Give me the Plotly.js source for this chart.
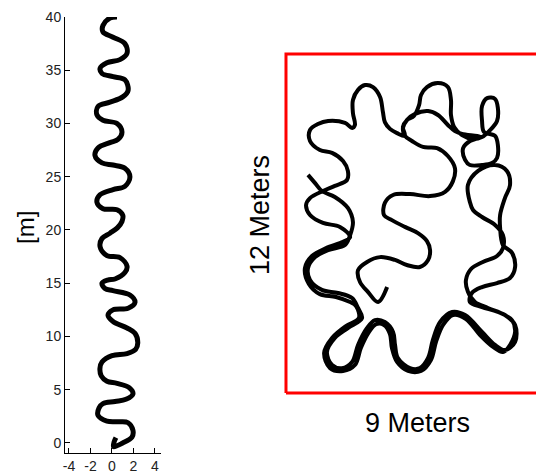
<!DOCTYPE html>
<html>
<head>
<meta charset="utf-8">
<script src="https://cdn.plot.ly/plotly-3.0.1.min.js"></script>
<style>html,body{margin:0;padding:0;background:#fff;}#chart{width:536px;height:474px;}</style>
</head>
<body>
<div id="chart"></div>
<script>
// Left panel: straight-line walk (meters)
const walkX = [0.37,0.2,0.15,1.0,1.86,1.95,1.5,0.74,-0.47,-1.3,-1.2,-0.84,0.28,1.3,1.95,1.6,0.47,-0.47,-1.0,-1.12,-0.93,0.0,1.4,2.2,2.4,2.14,1.4,0.1,-0.37,0.09,1.5,2.14,1.67,0.09,-0.65,-0.93,-0.4,0.28,1.2,1.4,0.74,-0.47,-1.1,-0.93,-0.19,0.5,0.93,1.0,0.47,-0.84,-1.4,-1.12,0.1,1.2,1.67,1.2,0.1,-0.93,-1.58,-1.3,-0.19,0.56,0.93,0.47,-0.84,-1.4,-1.3,-0.19,1.0,1.5,1.2,0.1,-0.93,-1.1,-0.47,0.74,1.4,1.2,0.1,-0.84,-0.84,-0.19,0.47];
const walkY = [0.5,0.1,-0.35,0.0,0.56,1.2,1.9,2.0,2.05,2.6,3.3,3.7,3.9,4.1,4.6,5.2,5.6,5.8,6.3,7.0,7.6,8.2,8.4,8.8,9.4,10.3,10.8,11.4,12.0,12.5,12.65,13.2,13.9,14.3,14.5,15.0,15.3,15.4,16.0,16.6,17.4,17.6,18.4,19.2,19.7,20.2,20.8,21.4,21.9,22.0,22.6,23.3,23.8,24.1,25.0,25.8,26.1,26.3,27.0,27.7,28.2,28.5,29.2,30.0,30.3,30.8,31.6,32.0,32.5,33.1,34.1,34.4,34.7,35.2,35.7,36.0,36.6,37.5,38.1,38.6,39.2,39.9,40.0];

// Right panel: walk inside the 9 m x 12 m room (meters)
const roomX = [0.78,1.03,1.27,1.73,2.19,2.37,2.27,2.09,1.49,1.03,0.78,0.85,1.27,1.84,2.34,2.55,2.69,
  2.19,1.73,1.45,1.63,1.98,2.34,2.55,2.87,3.15,3.50,3.79,3.86,3.96,4.39,4.74,5.03,5.20,5.45,5.88,6.34,6.94,7.40,7.75,
  8.11,8.11,7.75,7.15,6.69,6.44,6.37,6.55,6.97,7.47,7.68,7.68,7.40,6.94,6.62,6.51,
  6.44,6.80,7.40,7.82,7.93,7.75,
  7.58,7.58,7.68,8.00,8.11,7.93,7.47,6.94,6.58,6.51,6.94,7.50,8.00,8.11,7.93,7.68,
  7.33,6.87,6.37,5.91,5.56,5.31,5.13,4.78,4.32,3.93,3.75,3.68,3.47,3.19,2.94,2.65,2.44,2.02,1.56,1.35,1.63,2.12,2.58,
  2.48,2.27,1.77,1.20,0.81,0.67,0.92,1.42,2.02,2.27,
  1.91,1.31,0.85,0.71,0.85,1.31,1.73,2.16,2.19,2.02,1.63,1.20,0.85,0.85,
  1.13,1.49,2.09,2.34,2.44,2.37,2.37,2.55,2.80,3.08,3.33,3.43,3.50,3.68,3.93,4.21,
  4.14,4.28,4.53,4.71,4.78,4.99,5.38,5.73,5.84,5.84,5.95,6.23,6.62,6.94,
  7.19,7.47,7.50,7.40,7.12,6.94,6.94,7.01,
  7.40,7.50,7.47,7.29,6.94,6.51,6.34,6.27,6.51,6.87,
  6.23,5.98,5.73,5.38,5.03,4.57,4.28,4.14,4.21,
  4.46,4.85,5.35,5.73,5.98,5.91,5.63,5.10,4.39,3.79,3.50,3.47,3.75,4.21,4.67,4.99,5.10,5.03,4.74,4.28,3.86,3.33,2.87,2.55,2.62,2.90,3.26,3.58];
const roomY = [7.72,7.43,7.15,6.94,6.55,6.05,5.59,5.24,5.06,4.81,4.42,4.00,3.65,3.54,3.36,3.01,2.65,
  2.30,1.95,1.45,0.99,0.88,1.10,1.70,2.30,2.58,2.51,2.16,1.70,1.24,0.88,0.88,1.24,1.88,2.51,2.87,2.76,2.16,1.70,1.52,
  1.81,2.41,2.76,3.01,3.22,3.58,4.00,4.39,4.64,4.85,5.13,5.59,5.95,6.23,6.48,6.76,
  7.36,7.86,8.07,7.86,7.36,6.90,
  6.30,5.84,5.24,4.96,4.46,4.07,3.89,3.75,3.54,3.22,3.04,2.87,2.58,2.16,1.70,1.45,
  1.63,2.05,2.62,2.76,2.41,1.81,1.17,0.78,0.78,1.10,1.59,2.09,2.41,2.44,2.16,1.59,0.99,0.78,0.88,1.42,1.95,2.37,2.65,
  3.08,3.22,3.40,3.50,3.86,4.42,4.85,5.13,5.35,5.52,
  5.88,6.02,6.30,6.65,6.90,7.15,7.33,7.54,7.86,8.21,8.50,8.60,8.92,9.31,
  9.52,9.63,9.56,9.38,9.49,9.91,10.37,10.73,10.90,10.83,10.48,9.95,9.59,9.35,9.20,9.10,
  9.42,9.66,9.81,10.19,10.55,10.83,10.97,10.83,10.37,9.84,9.42,9.13,8.99,9.06,
  9.27,9.63,10.09,10.41,10.44,10.16,9.63,9.24,
  9.10,8.78,8.32,8.14,8.07,8.07,8.25,8.67,8.92,9.06,
  9.17,9.27,9.49,9.84,9.98,9.88,9.66,9.38,9.10,
  8.92,8.71,8.67,8.39,7.96,7.50,7.12,6.97,7.04,7.01,6.73,6.30,6.12,5.88,5.66,5.38,5.06,4.71,4.46,4.53,4.71,4.81,4.64,4.35,3.93,3.58,3.22,3.75];

// Room outline (meters)
const rectX = [0, 9, 9, 0, 0];
const rectY = [0, 0, 12, 12, 0];

// Tick values / labels of the left panel
const xTickVals = [-4, -2, 0, 2, 4];
const xTickText = ['-4', '-2', '0', '2', '4'];
const yTickVals = [0, 5, 10, 15, 20, 25, 30, 35, 40];

const FONT = 'Liberation Sans, Arial, sans-serif';

const traces = [
  {x: walkX, y: walkY, xaxis: 'x', yaxis: 'y', mode: 'lines',
   line: {color: '#000', width: 5, shape: 'spline', smoothing: 1}, hoverinfo: 'skip'},
  {x: rectX, y: rectY, xaxis: 'x2', yaxis: 'y2', mode: 'lines',
   line: {color: '#ff0000', width: 3}, hoverinfo: 'skip'},
  {x: roomX, y: roomY, xaxis: 'x2', yaxis: 'y2', mode: 'lines',
   line: {color: '#000', width: 4, shape: 'spline', smoothing: 1}, hoverinfo: 'skip'}
];

const axisCommon = {
  showgrid: false, zeroline: false, showline: true, linecolor: '#000', linewidth: 1,
  ticks: 'inside', ticklen: 5, tickcolor: '#000', tickwidth: 1,
  tickfont: {family: FONT, size: 14, color: '#222'}, fixedrange: true
};

const layout = {
  width: 536, height: 474,
  margin: {l: 0, r: 0, t: 0, b: 0},
  paper_bgcolor: '#fff', plot_bgcolor: 'rgba(0,0,0,0)',
  showlegend: false,
  xaxis: Object.assign({}, axisCommon, {
    domain: [65/536, 161/536], range: [-4.37, 4.56], anchor: 'y',
    tickmode: 'array', tickvals: xTickVals, ticktext: xTickText
  }),
  yaxis: Object.assign({}, axisCommon, {
    domain: [21/474, 457/474], range: [-0.94, 40], anchor: 'x',
    tickmode: 'array', tickvals: yTickVals
  }),
  xaxis2: {domain: [280/536, 1], range: [-0.212, 8.85], anchor: 'y2', visible: false, fixedrange: true},
  yaxis2: {domain: [74/474, 434/474], range: [-0.248, 12.496], anchor: 'x2', visible: false, fixedrange: true},
  annotations: [
    {text: '[m]', xref: 'paper', yref: 'paper', x: 25/536, y: (474-228)/474,
     xanchor: 'center', yanchor: 'middle', textangle: -90, showarrow: false,
     font: {family: FONT, size: 24, color: '#000'}},
    {text: '12 Meters', xref: 'paper', yref: 'paper', x: 260/536, y: (474-215)/474,
     xanchor: 'center', yanchor: 'middle', textangle: -90, showarrow: false,
     font: {family: FONT, size: 27, color: '#000'}},
    {text: '9 Meters', xref: 'paper', yref: 'paper', x: 417/536, y: (474-423)/474,
     xanchor: 'center', yanchor: 'middle', showarrow: false,
     font: {family: FONT, size: 27, color: '#000'}}
  ]
};

Plotly.newPlot('chart', traces, layout, {staticPlot: true, displayModeBar: false});
</script>
</body>
</html>
